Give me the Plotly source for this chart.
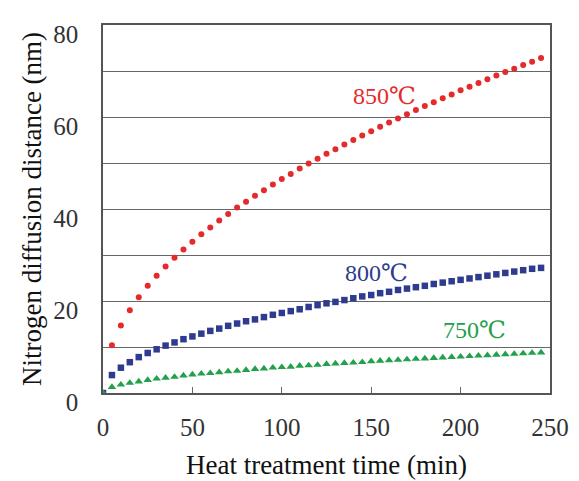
import plotly.graph_objects as go

time_min = [0, 5, 10, 15, 20, 25, 30, 35, 40, 45, 50, 55, 60, 65, 70, 75, 80, 85, 90, 95,
            100, 105, 110, 115, 120, 125, 130, 135, 140, 145, 150, 155, 160, 165, 170, 175,
            180, 185, 190, 195, 200, 205, 210, 215, 220, 225, 230, 235, 240, 245]

d_850 = [0, 10.4, 14.7, 18.0, 20.8, 23.3, 25.5, 27.5, 29.4, 31.2, 32.9, 34.5, 36.0, 37.5,
         38.9, 40.3, 41.6, 42.9, 44.1, 45.3, 46.5, 47.6, 48.8, 49.9, 50.9, 52.0, 53.0, 54.0,
         55.0, 56.0, 56.9, 57.9, 58.8, 59.7, 60.6, 61.5, 62.4, 63.2, 64.1, 64.9, 65.8, 66.6,
         67.4, 68.2, 69.0, 69.8, 70.5, 71.3, 72.0, 72.8]

d_800 = [0, 3.9, 5.5, 6.7, 7.8, 8.7, 9.5, 10.3, 11.0, 11.7, 12.3, 12.9, 13.5, 14.0, 14.6,
         15.1, 15.6, 16.0, 16.5, 17.0, 17.4, 17.8, 18.2, 18.7, 19.1, 19.5, 19.8, 20.2, 20.6,
         21.0, 21.3, 21.7, 22.0, 22.4, 22.7, 23.0, 23.3, 23.7, 24.0, 24.3, 24.6, 24.9, 25.2,
         25.5, 25.8, 26.1, 26.4, 26.7, 27.0, 27.2]

d_750 = [0, 1.3, 1.8, 2.2, 2.5, 2.8, 3.1, 3.3, 3.5, 3.8, 4.0, 4.2, 4.3, 4.5, 4.7, 4.8, 5.0,
         5.2, 5.3, 5.5, 5.6, 5.7, 5.9, 6.0, 6.1, 6.3, 6.4, 6.5, 6.6, 6.7, 6.9, 7.0, 7.1, 7.2,
         7.3, 7.4, 7.5, 7.6, 7.7, 7.8, 7.9, 8.0, 8.1, 8.2, 8.3, 8.4, 8.5, 8.6, 8.7, 8.8]

series_labels = ["850℃", "800℃", "750℃"]
label_x = [157.5, 153, 208]
label_y = [64.6, 26.1, 13.6]

RED = "#e52a2c"
BLUE = "#2e3b8f"
GREEN = "#22a04c"
FONT = "Liberation Serif, Times New Roman, serif"
LABEL_FONT = "Liberation Serif, DejaVu Serif, serif"

fig = go.Figure()
fig.add_trace(go.Scatter(x=time_min, y=d_850, mode="markers",
                         marker=dict(symbol="circle", size=6, color=RED), name="850℃"))
fig.add_trace(go.Scatter(x=time_min, y=d_800, mode="markers",
                         marker=dict(symbol="square", size=6.5, color=BLUE), name="800℃"))
fig.add_trace(go.Scatter(x=time_min, y=d_750, mode="markers",
                         marker=dict(symbol="triangle-up", size=7.5, color=GREEN), name="750℃"))

for txt, xx, yy, col in zip(series_labels, label_x, label_y, [RED, BLUE, GREEN]):
    fig.add_annotation(x=xx, y=yy, text=txt, showarrow=False,
                       font=dict(family=LABEL_FONT, size=24, color=col))

fig.update_layout(
    width=579, height=481,
    margin=dict(l=103, r=29, t=25, b=88),
    paper_bgcolor="white", plot_bgcolor="white",
    showlegend=False,
    font=dict(family=FONT, color="#333333"),
)
fig.update_xaxes(
    range=[0, 250], tickvals=[0, 50, 100, 150, 200, 250],
    ticks="inside", ticklen=6, tickcolor="#666666", tickwidth=1,
    showgrid=False, zeroline=False, automargin=False,
    showline=True, linecolor="#555555", linewidth=1.5, mirror=True,
    tickfont=dict(size=25, color="#333333"), ticklabelstandoff=11,
    title=dict(text="Heat treatment time (min)", font=dict(size=27, color="#111111"), standoff=15),
)
fig.update_yaxes(
    range=[0, 80], tickvals=[0, 20, 40, 60, 80],
    ticks="", showgrid=True, gridcolor="#666666", gridwidth=1.3,
    minor=dict(dtick=10, showgrid=True, gridcolor="#666666", gridwidth=1.3),
    zeroline=False, automargin=False,
    showline=True, linecolor="#555555", linewidth=1.5, mirror=True,
    tickfont=dict(size=25, color="#333333"), ticklabelstandoff=18, ticklabelshift=9,
    title=dict(text="Nitrogen diffusion distance (nm)", font=dict(size=27, color="#111111"), standoff=4),
)

fig.write_html("out.html")
